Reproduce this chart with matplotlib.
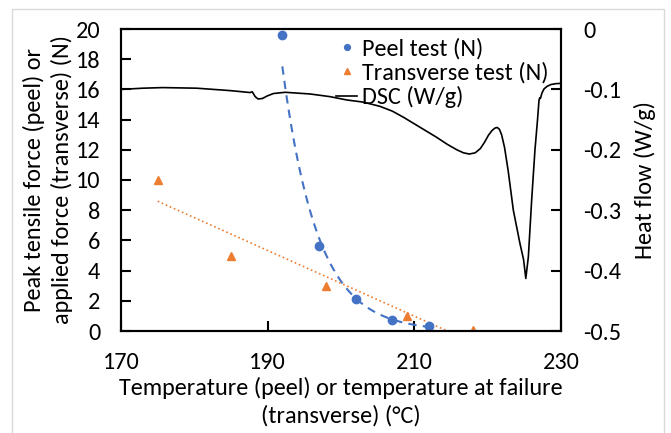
import numpy as np
import matplotlib.pyplot as plt
from matplotlib.patches import Rectangle

plt.rcParams['font.family'] = ['Carlito', 'Lato', 'DejaVu Sans']
plt.rcParams['font.size'] = 17.5
plt.rcParams['axes.unicode_minus'] = False

# peel and transverse test results
peel_temp = [192, 197, 202, 207, 212]
peel_force = [19.6, 5.6, 2.1, 0.7, 0.3]
trans_temp = [175, 185, 198, 209, 218]
trans_force = [10, 5, 3, 1, 0.05]

# DSC trace
dsc_temp = [170, 173, 175.7, 180.3, 184.9, 187.6, 187.9, 188.3, 188.7, 189.3,
            190.0, 190.8, 192.4, 195.8, 198.5, 200.8, 203, 205.3, 207.0, 208.5,
            210.0, 211.5, 213.0, 214.5, 215.8, 216.7, 217.5, 218.3, 219.0,
            219.6, 220.1, 220.6, 221.0, 221.3, 221.6, 221.9, 222.3, 222.8,
            223.5, 224.4, 224.9, 225.2, 225.55, 226.0, 226.45, 226.8, 227.0,
            227.1, 227.2, 227.4, 227.7, 228.1, 228.6, 229.3, 230]
dsc_flow = [-0.100, -0.098, -0.097, -0.098, -0.102, -0.1052, -0.1040, -0.1120,
            -0.1159, -0.1150, -0.1105, -0.1068, -0.1048, -0.1076, -0.112,
            -0.1175, -0.121, -0.128, -0.136, -0.146, -0.157, -0.168, -0.179,
            -0.191, -0.200, -0.205, -0.207, -0.205, -0.198, -0.187, -0.176,
            -0.168, -0.164, -0.163, -0.166, -0.175, -0.196, -0.235, -0.300,
            -0.355, -0.382, -0.413, -0.377, -0.283, -0.200, -0.150, -0.118,
            -0.114, -0.115, -0.106, -0.099, -0.095, -0.092, -0.0905, -0.090]

blue = '#4472C4'
orange = '#ED7D31'

fig = plt.figure(figsize=(6.71, 4.33), dpi=100)
ax = fig.add_axes([121/671, 102/433, 440/671, 302/433])
ax2 = ax.twinx()

# exponential trend for peel
b, a = np.polyfit(peel_temp, np.log(peel_force), 1)
xp = np.linspace(min(peel_temp), max(peel_temp), 100)
ax.plot(xp, np.exp(a + b*xp), '--', color=blue, lw=1.5, dashes=(4, 3))

# linear trend for transverse, stopped at zero
m, c = np.polyfit(trans_temp, trans_force, 1)
x0 = -c/m
xt = np.linspace(min(trans_temp), x0, 100)
ax.plot(xt, m*xt + c, ':', color=orange, lw=1.2)

ax2.plot(dsc_temp, dsc_flow, color='black', lw=1.2, label='DSC (W/g)')
p1, = ax.plot(peel_temp, peel_force, 'o', color=blue, ms=6, label='Peel test (N)')
p2, = ax.plot(trans_temp, trans_force, '^', color=orange, ms=6, label='Transverse test (N)')

ax.set_xlim(170, 230)
ax.set_ylim(0, 20)
ax.set_xticks([170, 190, 210, 230])
ax.set_yticks(range(0, 21, 2))
ax2.set_ylim(-0.5, 0)
ax2.set_yticks([0, -0.1, -0.2, -0.3, -0.4, -0.5])
ax2.set_yticklabels(['0', '-0.1', '-0.2', '-0.3', '-0.4', '-0.5'])

ax.tick_params(axis='x', direction='in', length=7, width=1.5, pad=15)
ax.tick_params(axis='y', direction='in', length=7, width=1.5, pad=15)
ax2.tick_params(axis='y', direction='in', length=7, width=1.5, pad=16)
for a_ in (ax, ax2):
    for s in a_.spines.values():
        s.set_linewidth(1.5)

ax.set_xlabel('Temperature (peel) or temperature at failure\n(transverse) (°C)',
              linespacing=1.35, labelpad=3)
ax.set_ylabel('Peak tensile force (peel) or\napplied force (transverse) (N)',
              linespacing=1.3, labelpad=2)
ax2.set_ylabel('Heat flow (W/g)', labelpad=9)

h3 = ax2.get_lines()[0]
ax2.legend([p1, p2, h3], ['Peel test (N)', 'Transverse test (N)', 'DSC (W/g)'],
           loc='upper right', frameon=False, handlelength=0.9,
           handletextpad=0.2, borderaxespad=0.1, labelspacing=0.1,
           markerscale=0.7, bbox_to_anchor=(1.0, 1.01))

fig.patches.append(Rectangle((12/671, -0.05), 652/671, 1.05 - 9/433,
                             transform=fig.transFigure, fill=False,
                             edgecolor='#d9d9d9', lw=1))

fig.savefig('out.png', dpi=100)
